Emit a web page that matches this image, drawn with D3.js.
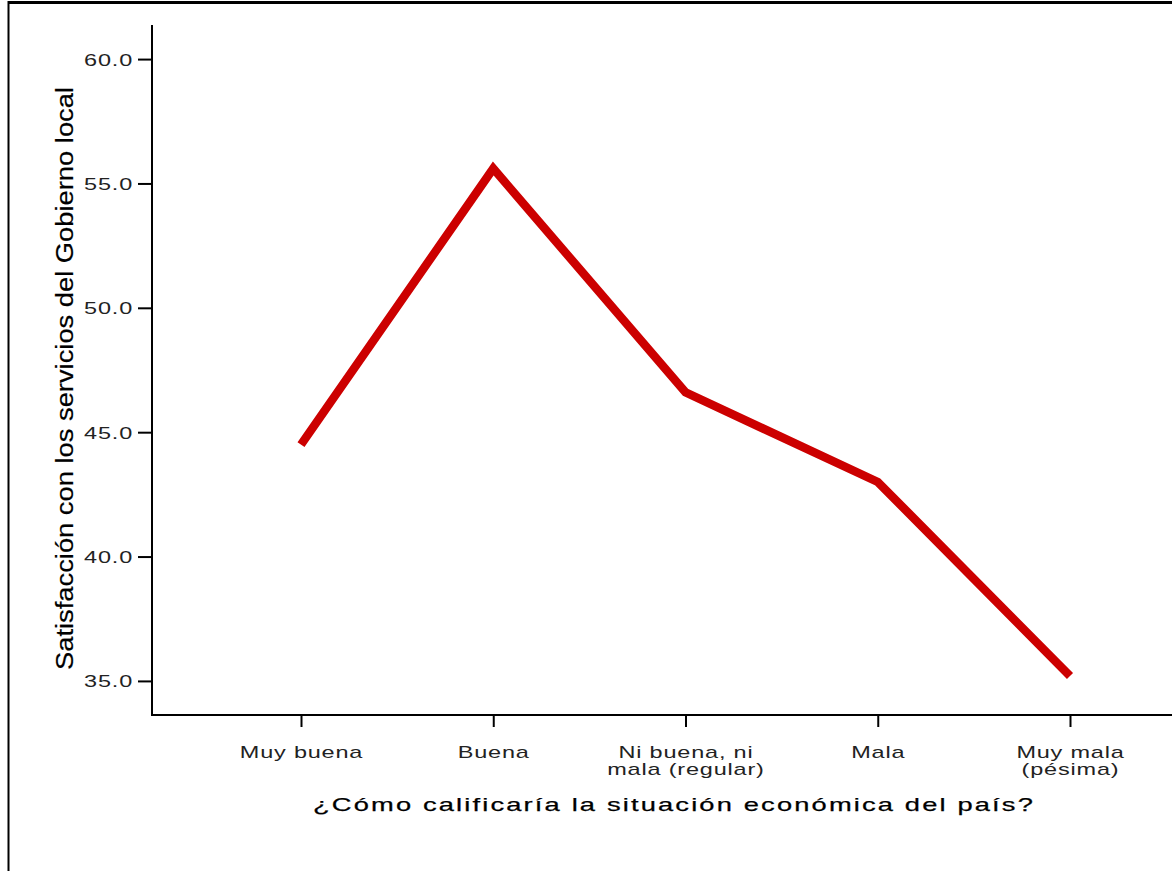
<!DOCTYPE html>
<html>
<head>
<meta charset="utf-8">
<script src="https://cdn.jsdelivr.net/npm/d3@7"></script>
<style>
  html, body { margin: 0; padding: 0; background: #fff; }
  svg { display: block; }
</style>
</head>
<body>
<svg id="chart" width="1172" height="871"></svg>
<script>
const categories = ["Muy buena", "Buena", "Ni buena, ni\nmala (regular)", "Mala", "Muy mala\n(pésima)"];
const values = [44.5, 55.6, 46.6, 43.0, 35.2];
const yTicks = [35, 40, 45, 50, 55, 60];
const xTitle = "¿Cómo calificaría la situación económica del país?";
const yTitle = "Satisfacción con los servicios del Gobierno local";

const FONT = "'Liberation Sans', Arial, sans-serif";
const SX = 1.38; // horizontal stretch of label glyphs

const svg = d3.select("#chart");
const W = 1172, H = 871;

// outer frame (top and left edges)
svg.append("line").attr("x1", 8).attr("x2", W).attr("y1", 2.5).attr("y2", 2.5)
  .attr("stroke", "#000").attr("stroke-width", 3);
svg.append("line").attr("x1", 8.5).attr("x2", 8.5).attr("y1", 1).attr("y2", H)
  .attr("stroke", "#000").attr("stroke-width", 2);

const axisLeftX = 152, axisBottomY = 715, axisTopY = 25;
const y = d3.scaleLinear().domain([33.63, 61.37]).range([axisBottomY, axisTopY]);
const x = d3.scalePoint().domain(categories).range([301, 1070]);

// y axis
const yAxis = d3.axisLeft(y).tickValues(yTicks).tickFormat(d3.format(".1f")).tickSize(14);
const gy = svg.append("g").attr("transform", `translate(${axisLeftX},0)`).call(yAxis);
gy.select(".domain").remove();
gy.selectAll(".tick line").attr("stroke", "#000").attr("stroke-width", 2);
gy.selectAll(".tick text")
  .attr("x", 0).attr("dy", null).attr("y", 6)
  .attr("transform", `translate(-19,0) scale(${SX},1)`)
  .attr("font-family", FONT).attr("font-size", 17).attr("letter-spacing", 0.6).attr("fill", "#222");
svg.append("line").attr("x1", axisLeftX).attr("x2", axisLeftX).attr("y1", axisTopY).attr("y2", axisBottomY + 1)
  .attr("stroke", "#000").attr("stroke-width", 2);

// x axis
const xAxis = d3.axisBottom(x).tickSize(12);
const gx = svg.append("g").attr("transform", `translate(0,${axisBottomY})`).call(xAxis);
gx.select(".domain").remove();
gx.selectAll(".tick line").attr("stroke", "#000").attr("stroke-width", 2);
gx.selectAll(".tick text").each(function(d) {
  const t = d3.select(this);
  t.text(null).attr("dy", null).attr("y", 0)
    .attr("transform", `translate(0,43) scale(${SX},1)`)
    .attr("font-family", FONT).attr("font-size", 17).attr("letter-spacing", 0.6).attr("fill", "#222");
  d.split("\n").forEach((l, i) => {
    t.append("tspan").attr("x", 0).attr("dy", i === 0 ? 0 : 17).text(l);
  });
});
svg.append("line").attr("x1", axisLeftX - 1).attr("x2", W).attr("y1", axisBottomY).attr("y2", axisBottomY)
  .attr("stroke", "#000").attr("stroke-width", 2);

// line
const line = d3.line().x((d, i) => x(categories[i])).y(d => y(d));
svg.append("path").datum(values).attr("d", line)
  .attr("fill", "none").attr("stroke", "#cc0000").attr("stroke-width", 8.5)
  .attr("stroke-linejoin", "miter");

// axis titles
svg.append("text").attr("x", 313).attr("y", 811)
  .attr("font-family", FONT).attr("font-size", 19).attr("letter-spacing", 1.5)
  .attr("textLength", 722).attr("lengthAdjust", "spacingAndGlyphs")
  .attr("fill", "#000").attr("stroke", "#000").attr("stroke-width", 0.25).text(xTitle);

svg.append("text").attr("transform", `translate(73,670) rotate(-90)`)
  .attr("font-family", FONT).attr("font-size", 23)
  .attr("textLength", 583).attr("lengthAdjust", "spacingAndGlyphs")
  .attr("fill", "#000").attr("stroke", "#000").attr("stroke-width", 0.2).text(yTitle);
</script>
</body>
</html>
